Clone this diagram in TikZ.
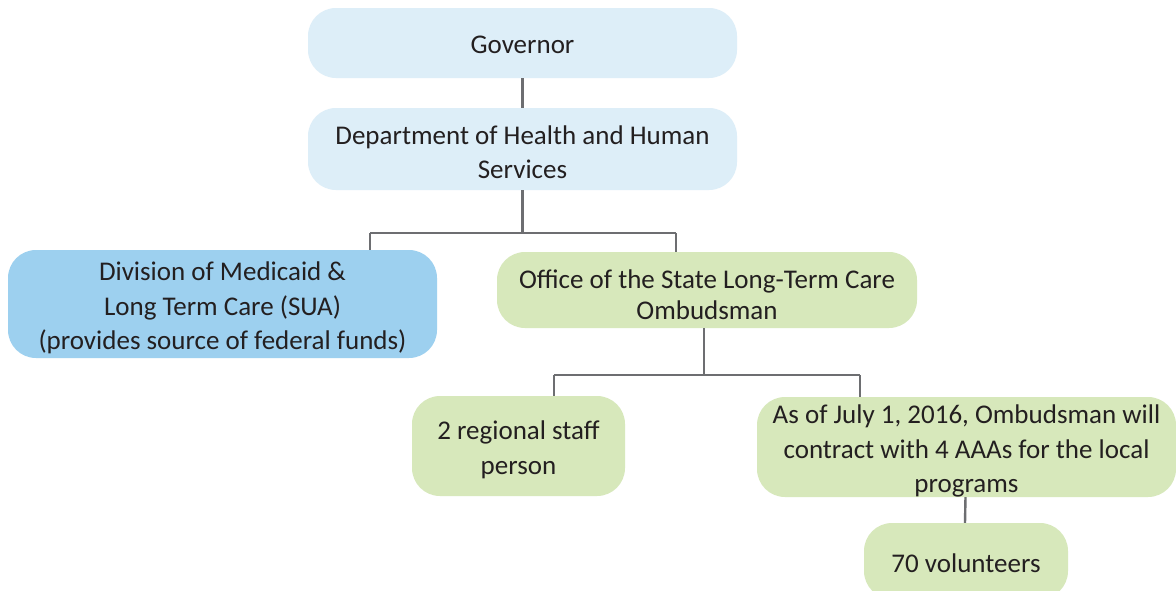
\documentclass[tikz,border=0pt]{standalone}
\usepackage{fontspec}
\setmainfont{Carlito}
\definecolor{paleblue}{HTML}{DDEEF8}
\definecolor{midblue}{HTML}{9DD0EF}
\definecolor{palegreen}{HTML}{D7E8BB}
\definecolor{linegray}{HTML}{6D6E71}
\definecolor{txt}{HTML}{231F20}
\tikzset{
  box/.style={rounded corners=28pt, inner sep=0pt, anchor=center},
  lbl/.style={inner sep=0pt, align=center, text=txt, yshift=-4pt,
    font=\fontsize{27}{34.5}\selectfont},
  link/.style={draw=linegray, line width=2.4pt},
}
\begin{document}
\begin{tikzpicture}[x=1pt,y=-1pt]
\clip (0,0) rectangle (1176,590);
\useasboundingbox (0,0) rectangle (1176,590);
\fill[white] (0,0) rectangle (1176,590);
\node[box, fill=paleblue, minimum width=429pt, minimum height=70pt,
  label={[lbl,yshift=2pt]center:Governor}] (gov) at (522.5,43) {};
\node[box, fill=paleblue, minimum width=429pt, minimum height=82pt,
  label={[lbl,yshift=1pt]center:{Department of Health and Human\\Services}}] (dept) at (522.5,149) {};
\node[box, fill=midblue, minimum width=429pt, minimum height=108pt,
  label={[lbl]center:{Division of Medicaid \&\\Long Term Care (SUA)\\(provides source of federal funds)}}] (div) at (222.5,304) {};
\node[box, fill=palegreen, minimum width=420pt, minimum height=76pt,
  label={[lbl,yshift=-1pt,font=\fontsize{27}{31}\selectfont]center:{Office of the State Long-Term Care\\Ombudsman}}] (off) at (707,290) {};
\node[box, fill=palegreen, minimum width=213pt, minimum height=100pt,
  label={[lbl]center:{2 regional staff\\person}}] (reg) at (518.5,446) {};
\node[box, fill=palegreen, minimum width=419pt, minimum height=100pt,
  label={[lbl]center:{As of July 1, 2016, Ombudsman will\\contract with 4 AAAs for the local\\programs}}] (jul) at (966.5,447) {};
\node[box, fill=palegreen, minimum width=204pt, minimum height=76pt,
  label={[lbl,yshift=2pt]center:70 volunteers}] (vol) at (966,561) {};
\coordinate (dl) at (370,233);
\coordinate (dr) at (676,233);
\coordinate (ol) at (554,375);
\coordinate (or) at (860,375);
\draw[link] (gov.south) -- (dept.north);
\draw[link] (dept.south) -- (dept.south |- dl);
\draw[link] (dl) -- (dr);
\draw[link] (dl) -- (dl |- div.north);
\draw[link] (dr) -- (dr |- off.north);
\draw[link] ([xshift=-3pt]off.south) -- ([xshift=-3pt]off.south |- ol);
\draw[link] (ol) -- (or);
\draw[link] (ol) -- (ol |- reg.north);
\draw[link] (or) -- (or |- jul.north);
\draw[link] ([xshift=-1pt]jul.south) -- ([xshift=-1pt]vol.north);
\end{tikzpicture}
\end{document}
